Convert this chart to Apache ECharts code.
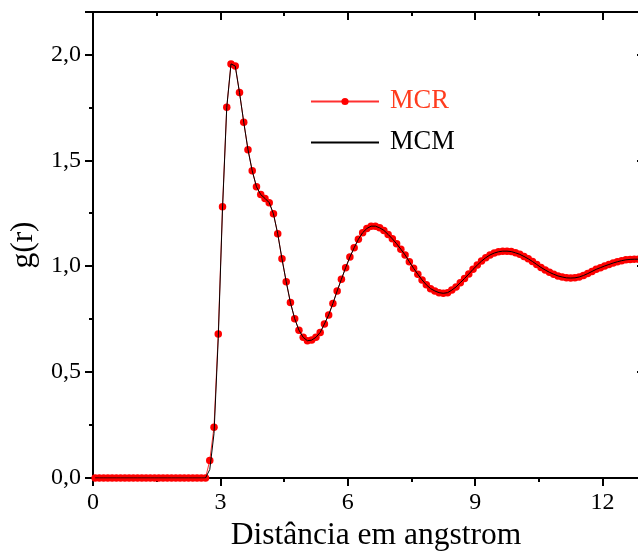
<!DOCTYPE html>
<html>
<head>
<meta charset="utf-8">
<script src="https://cdn.jsdelivr.net/npm/echarts@6/dist/echarts.min.js"></script>
<style>
  html, body { margin: 0; padding: 0; background: #ffffff; }
  #chart { width: 638px; height: 551px; }
</style>
</head>
<body>
<div id="chart"></div>
<script>
// Radial distribution function g(r) versus distance (angstrom)
const distance = [
  0.05, 0.15, 0.25, 0.35, 0.45, 0.55, 0.65, 0.75, 0.85, 0.95,
  1.05, 1.15, 1.25, 1.35, 1.45, 1.55, 1.65, 1.75, 1.85, 1.95,
  2.05, 2.15, 2.25, 2.35, 2.45, 2.55, 2.65, 2.75, 2.85, 2.95,
  3.05, 3.15, 3.25, 3.35, 3.45, 3.55, 3.65, 3.75, 3.85, 3.95,
  4.05, 4.15, 4.25, 4.35, 4.45, 4.55, 4.65, 4.75, 4.85, 4.95,
  5.05, 5.15, 5.25, 5.35, 5.45, 5.55, 5.65, 5.75, 5.85, 5.95,
  6.05, 6.15, 6.25, 6.35, 6.45, 6.55, 6.65, 6.75, 6.85, 6.95,
  7.05, 7.15, 7.25, 7.35, 7.45, 7.55, 7.65, 7.75, 7.85, 7.95,
  8.05, 8.15, 8.25, 8.35, 8.45, 8.55, 8.65, 8.75, 8.85, 8.95,
  9.05, 9.15, 9.25, 9.35, 9.45, 9.55, 9.65, 9.75, 9.85, 9.95,
  10.05, 10.15, 10.25, 10.35, 10.45, 10.55, 10.65, 10.75, 10.85, 10.95,
  11.05, 11.15, 11.25, 11.35, 11.45, 11.55, 11.65, 11.75, 11.85, 11.95,
  12.05, 12.15, 12.25, 12.35, 12.45, 12.55, 12.65, 12.75, 12.85, 12.95
];

const gMCR = [
  0, 0, 0, 0, 0, 0, 0, 0, 0, 0,
  0, 0, 0, 0, 0, 0, 0, 0, 0, 0,
  0, 0, 0, 0, 0, 0, 0, 0.083, 0.24, 0.68,
  1.28, 1.75, 1.955, 1.945, 1.82, 1.68, 1.55, 1.45, 1.375, 1.338,
  1.32, 1.30, 1.247, 1.153, 1.035, 0.927, 0.828, 0.752, 0.698, 0.664,
  0.648, 0.651, 0.664, 0.687, 0.727, 0.77, 0.824, 0.883, 0.938, 0.993,
  1.043, 1.087, 1.127, 1.158, 1.178, 1.189, 1.189, 1.181, 1.169, 1.15,
  1.129, 1.106, 1.08, 1.053, 1.021, 0.99, 0.962, 0.935, 0.912, 0.894,
  0.883, 0.875, 0.872, 0.875, 0.887, 0.902, 0.922, 0.942, 0.963, 0.985,
  1.005, 1.024, 1.040, 1.053, 1.062, 1.068, 1.071, 1.071, 1.069, 1.063,
  1.056, 1.046, 1.035, 1.022, 1.008, 0.994, 0.982, 0.971, 0.962, 0.954,
  0.949, 0.945, 0.944, 0.945, 0.949, 0.956, 0.965, 0.975, 0.985, 0.993,
  1.001, 1.008, 1.015, 1.021, 1.026, 1.030, 1.032, 1.033, 1.033, 1.032
];

const gMCM = [
  0, 0, 0, 0, 0, 0, 0, 0, 0, 0,
  0, 0, 0, 0, 0, 0, 0, 0, 0, 0,
  0, 0, 0, 0, 0, 0, 0, 0.04, 0.21, 0.66,
  1.27, 1.75, 1.955, 1.945, 1.82, 1.68, 1.55, 1.45, 1.375, 1.338,
  1.32, 1.30, 1.247, 1.153, 1.035, 0.927, 0.828, 0.752, 0.698, 0.664,
  0.648, 0.651, 0.664, 0.687, 0.727, 0.77, 0.824, 0.883, 0.938, 0.993,
  1.043, 1.087, 1.127, 1.158, 1.178, 1.189, 1.189, 1.181, 1.169, 1.15,
  1.129, 1.106, 1.08, 1.053, 1.021, 0.99, 0.962, 0.935, 0.912, 0.894,
  0.883, 0.875, 0.872, 0.875, 0.887, 0.902, 0.922, 0.942, 0.963, 0.985,
  1.005, 1.024, 1.040, 1.053, 1.062, 1.068, 1.071, 1.071, 1.069, 1.063,
  1.056, 1.046, 1.035, 1.022, 1.008, 0.994, 0.982, 0.971, 0.962, 0.954,
  0.949, 0.945, 0.944, 0.945, 0.949, 0.956, 0.965, 0.975, 0.985, 0.993,
  1.001, 1.008, 1.015, 1.021, 1.026, 1.030, 1.032, 1.033, 1.033, 1.032
];

const seriesNames = ['MCR', 'MCM'];
const xTickLabels = { 0: '0', 3: '3', 6: '6', 9: '9', 12: '12' };
const yTickLabels = { 0: '0,0', 0.5: '0,5', 1: '1,0', 1.5: '1,5', 2: '2,0' };
const xTitle = 'Distância em angstrom';
const yTitle = 'g(r)';

const FONT = '"Liberation Serif", "DejaVu Serif", serif';

const pairs = ys => distance.map((x, i) => [x, ys[i]]);

const axisLineStyle = { onZero: false, lineStyle: { color: '#000', width: 2 } };
const majorTick = inside => ({ show: true, inside, length: 8, lineStyle: { color: '#000', width: 2 } });
const minorTick = { show: true, splitNumber: 2, length: 4, lineStyle: { color: '#000', width: 2 } };

const chart = echarts.init(document.getElementById('chart'), null, { renderer: 'canvas' });

chart.setOption({
  animation: false,
  backgroundColor: '#ffffff',
  grid: {
    left: 93, top: 12, width: 552, height: 466,
    containLabel: false, outerBoundsMode: 'none'
  },
  legend: {
    orient: 'vertical',
    left: 310,
    top: 88,
    padding: 0,
    itemWidth: 68,
    itemHeight: 9,
    itemGap: 14,
    data: [
      { name: seriesNames[0], textStyle: { color: '#ff3c1e' } },
      { name: seriesNames[1], textStyle: { color: '#000000' }, itemStyle: { color: 'transparent', borderWidth: 0 } }
    ],
    textStyle: { fontFamily: FONT, fontSize: 26.5, padding: [0, 0, 0, 6] }
  },
  xAxis: [
    {
      type: 'value', position: 'bottom', min: 0, max: 13, interval: 3,
      axisLine: axisLineStyle,
      axisTick: majorTick(false),
      minorTick: minorTick,
      splitLine: { show: false },
      axisLabel: {
        margin: 13, color: '#000', fontFamily: FONT, fontSize: 24,
        formatter: v => xTickLabels[v] !== undefined ? xTickLabels[v] : ''
      },
      name: xTitle, nameLocation: 'middle', nameGap: 38,
      nameTextStyle: { color: '#000', fontFamily: FONT, fontSize: 31.5, padding: [0, 0, 0, 14] }
    },
    {
      type: 'value', position: 'top', min: 0, max: 13, interval: 3,
      axisLine: axisLineStyle,
      axisTick: majorTick(true),
      minorTick: minorTick,
      splitLine: { show: false },
      axisLabel: { show: false }
    }
  ],
  yAxis: [
    {
      type: 'value', position: 'left', min: 0, max: 2.2, interval: 0.5,
      axisLine: axisLineStyle,
      axisTick: majorTick(false),
      minorTick: minorTick,
      splitLine: { show: false },
      axisLabel: {
        margin: 12, color: '#000', fontFamily: FONT, fontSize: 24,
        formatter: v => yTickLabels[v] !== undefined ? yTickLabels[v] : ''
      },
      name: yTitle, nameLocation: 'middle', nameGap: 46, nameRotate: 90,
      nameTextStyle: { color: '#000', fontFamily: FONT, fontSize: 31.5 }
    },
    {
      type: 'value', position: 'right', min: 0, max: 2.2, interval: 0.5,
      axisLine: axisLineStyle,
      axisTick: majorTick(true),
      minorTick: minorTick,
      splitLine: { show: false },
      axisLabel: { show: false }
    }
  ],
  series: [
    {
      name: seriesNames[0],
      type: 'line',
      data: pairs(gMCR),
      symbol: 'circle',
      symbolSize: 7.5,
      showAllSymbol: true,
      itemStyle: { color: '#ff0000' },
      lineStyle: { color: '#ff3030', width: 1 },
      z: 2
    },
    {
      name: seriesNames[1],
      type: 'line',
      data: pairs(gMCM),
      symbol: 'none',
      itemStyle: { color: '#000000' },
      lineStyle: { color: '#000000', width: 1 },
      z: 3
    }
  ]
});
</script>
</body>
</html>
